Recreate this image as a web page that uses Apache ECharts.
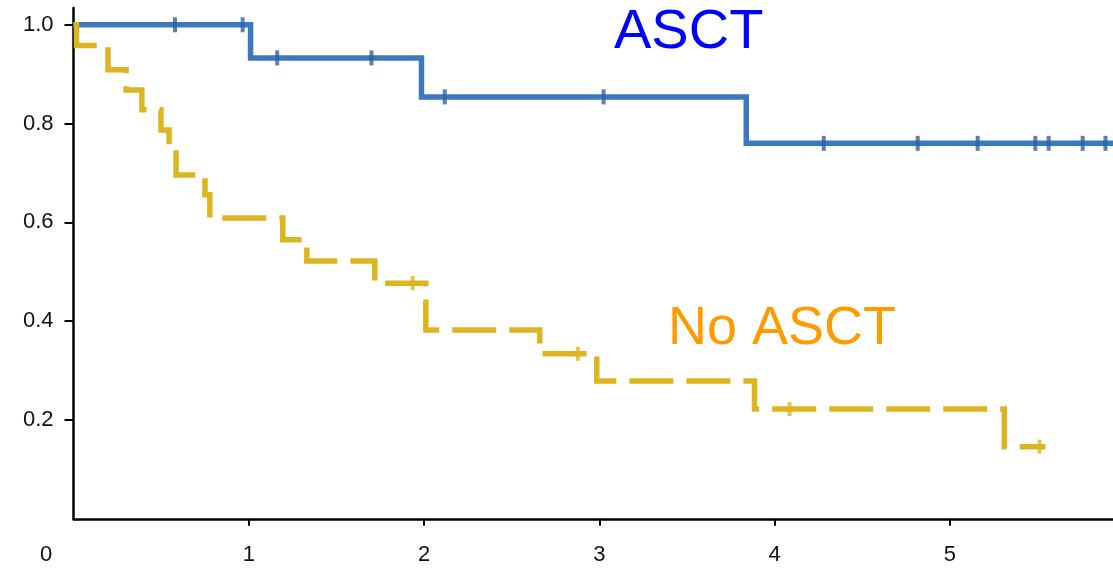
<!DOCTYPE html>
<html>
<head>
<meta charset="utf-8">
<title>Survival by ASCT</title>
<script src="https://cdn.jsdelivr.net/npm/echarts@6/dist/echarts.min.js"></script>
<style>
  html, body { margin: 0; padding: 0; background: #fff; }
  #chart { width: 1113px; height: 584px; }
</style>
</head>
<body>
<div id="chart"></div>
<script>
// Kaplan–Meier steps: time (years) of each drop and the survival level after it
const ascctTimes = [0, 1.01, 1.985, 3.838, 5.93];
const ascctSurv  = [1.0, 0.933, 0.854, 0.760, 0.760];
const ascctCensored = [0.579, 0.965, 1.162, 1.70, 2.118, 3.024, 4.28, 4.816, 5.158, 5.487, 5.563, 5.757, 5.887];

const noAsctTimes = [0, 0.017, 0.197, 0.30, 0.39, 0.499, 0.545, 0.585, 0.75, 0.778, 1.194, 1.331, 1.719, 2.01, 2.66, 2.985, 3.885, 5.31, 5.545];
const noAsctSurv  = [1.0, 0.958, 0.909, 0.868, 0.828, 0.787, 0.747, 0.696, 0.656, 0.609, 0.565, 0.522, 0.477, 0.382, 0.334, 0.279, 0.222, 0.146, 0.146];
const noAsctCensored = [1.935, 2.877, 4.085, 5.511];

const xTicks = [0, 1, 2, 3, 4, 5];
const yTicks = [0.2, 0.4, 0.6, 0.8, 1.0];

// survival level of a step curve at time t
function levelAt(times, surv, t) {
  let s = surv[0];
  for (let i = 0; i < times.length; i++) {
    if (times[i] <= t) s = surv[i];
  }
  return s;
}

const zip = (a, b) => a.map((v, i) => [v, b[i]]);
const censorPoints = (times, surv, cens) => cens.map(t => [t, levelAt(times, surv, t)]);

const BLUE = '#3B78BD';
const GOLD = '#DDB521';
const labelFont = 'Liberation Sans';
const labelSize = 22;
const labelColor = '#111';

const chart = echarts.init(document.getElementById('chart'));
chart.setOption({
  animation: false,
  backgroundColor: '#ffffff',
  textStyle: { fontFamily: labelFont, fontSize: labelSize },
  grid: { left: 73.5, right: 0, top: 8, bottom: 65.25 },
  xAxis: {
    type: 'value',
    min: 0,
    max: 5.93,
    splitLine: { show: false },
    axisLine: { show: true, lineStyle: { color: '#000', width: 2.5 } },
    axisTick: { show: true, customValues: [1, 2, 3, 4, 5], length: 7, lineStyle: { color: '#000', width: 2 } },
    axisLabel: {
      customValues: xTicks,
      margin: 25,
      fontSize: labelSize,
      fontFamily: labelFont,
      color: labelColor,
      formatter: v => (v === 0 ? '{z|0}' : String(v)),
      rich: { z: { padding: [0, 55, 0, 0], fontSize: labelSize, fontFamily: labelFont, color: labelColor } }
    }
  },
  yAxis: {
    type: 'value',
    min: 0,
    max: 1.034,
    splitLine: { show: false },
    axisLine: { show: true, lineStyle: { color: '#000', width: 2.5 } },
    axisTick: { show: true, customValues: yTicks, length: 9, lineStyle: { color: '#000', width: 2 } },
    axisLabel: {
      customValues: yTicks,
      margin: 20,
      fontSize: labelSize,
      fontFamily: labelFont,
      color: labelColor,
      formatter: v => v.toFixed(1)
    }
  },
  series: [
    {
      name: 'ASCT',
      type: 'line',
      step: 'end',
      data: zip(ascctTimes, ascctSurv),
      symbol: 'none',
      z: 2,
      lineStyle: { color: BLUE, width: 5.5, cap: 'butt', join: 'miter' }
    },
    {
      name: 'No ASCT',
      type: 'line',
      step: 'end',
      data: zip(noAsctTimes, noAsctSurv),
      symbol: 'none',
      z: 3,
      lineStyle: { color: GOLD, width: 5.5, type: [44, 13], cap: 'butt', join: 'miter' }
    },
    {
      name: 'ASCT censored',
      type: 'scatter',
      data: censorPoints(ascctTimes, ascctSurv, ascctCensored),
      symbol: 'rect',
      symbolSize: [4, 15],
      z: 4,
      itemStyle: { color: '#2E62A3' }
    },
    {
      name: 'No ASCT censored',
      type: 'scatter',
      data: censorPoints(noAsctTimes, noAsctSurv, noAsctCensored),
      symbol: 'rect',
      symbolSize: [4, 14],
      z: 4,
      itemStyle: { color: GOLD }
    }
  ],
  graphic: [
    {
      type: 'text',
      x: 614,
      y: 33,
      style: { text: 'ASCT', fontSize: 56, fontFamily: 'Liberation Sans', fill: '#0000FF', align: 'left', verticalAlign: 'middle' }
    },
    {
      type: 'text',
      x: 668,
      y: 329.5,
      style: { text: 'No ASCT', fontSize: 54, fontFamily: 'Liberation Sans', fill: '#FF9A00', align: 'left', verticalAlign: 'middle' }
    }
  ]
});
</script>
</body>
</html>
